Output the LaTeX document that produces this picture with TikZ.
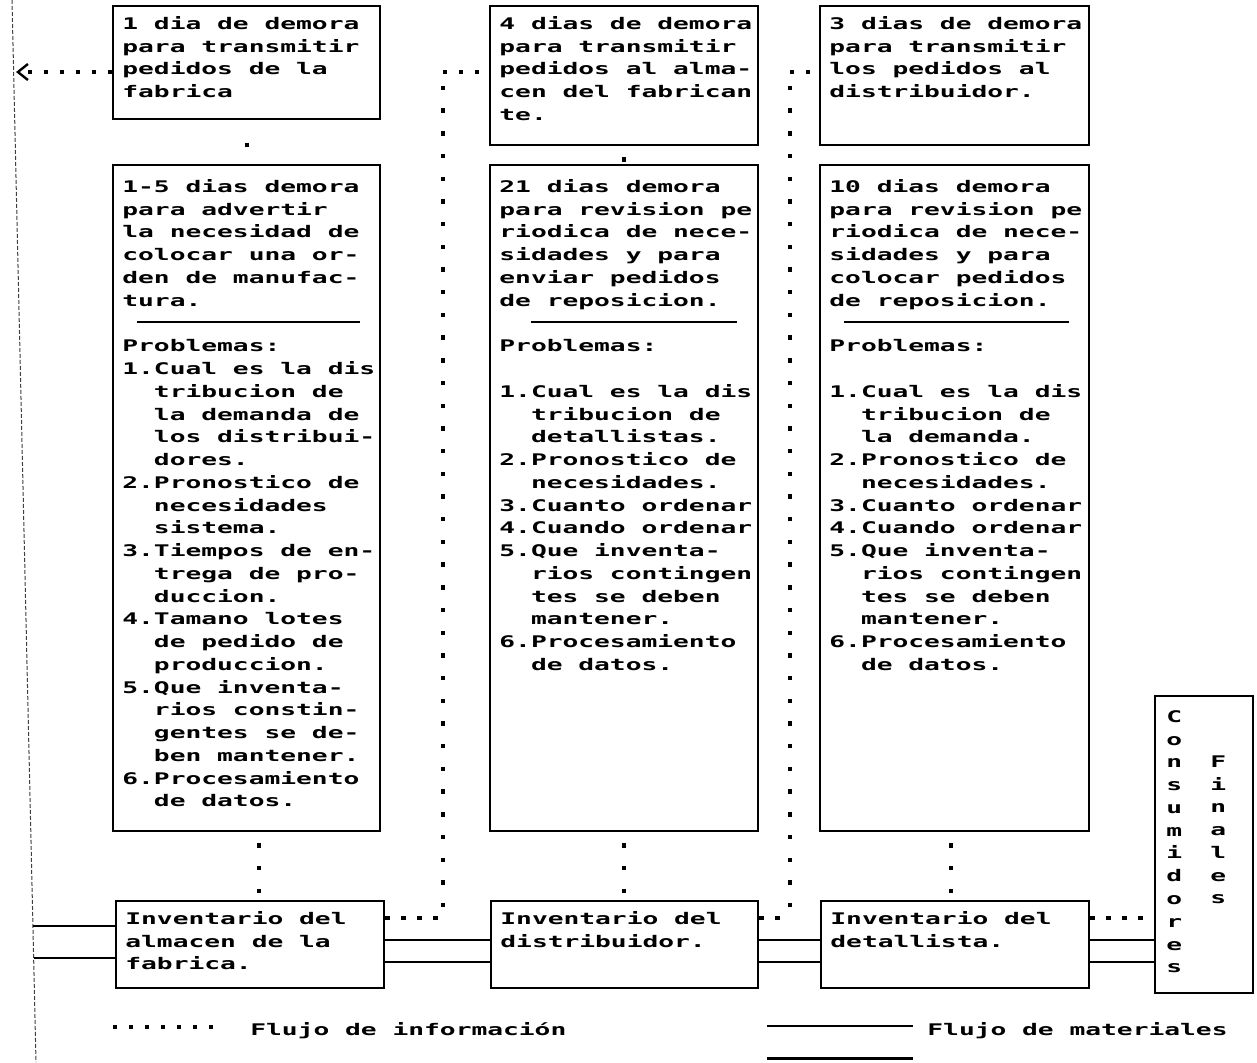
\documentclass[tikz,border=0pt]{standalone}
\usepackage{fontspec}
\newfontfamily\dm[FakeStretch=1.64]{DejaVu Sans Mono}
\usetikzlibrary{arrows.meta,calc}
\newcommand\fl{\rule{0pt}{7pt}}
\newcommand\ind{\phantom{1.}}
\begin{document}
\begin{tikzpicture}[x=0.5pt,y=-0.5pt,
  box/.style={draw,line width=1.2pt,inner sep=0pt,anchor=north west},
  txt/.style={anchor=north west,inner sep=0pt,align=left,font=\dm\bfseries\fontsize{8}{11.38}\selectfont},
  infoh/.style={line width=2.2pt,dash pattern=on 2.2pt off 5.8pt},
  infov/.style={line width=2.2pt,dash pattern=on 2.2pt off 9.15pt,dash phase=6pt},
  infoone/.style={line width=2.2pt,dash pattern=on 2.2pt off 30pt,dash phase=21pt},
  mat/.style={line width=1pt},
  sep/.style={line width=1pt},
  edge/.style={line width=0.5pt,black!75,dash pattern=on 2pt off 1pt},
]
\fill[white] (0,0) rectangle (1257,1062);
\useasboundingbox (0,0) rectangle (1257,1062);

% left border line
\coordinate (e1) at (12,0);
\coordinate (e2) at (36,1062);
\draw[edge] (e1) -- (e2);

% row 1
\node[box,minimum width=133.5pt,minimum height=56.5pt] (A1) at (112,5) {};
\node[box,minimum width=134pt,minimum height=69.5pt] (B1) at (489,5) {};
\node[box,minimum width=134.5pt,minimum height=69.5pt] (C1) at (819,5) {};
\node[txt] (A1t) at (122,15) {\fl 1 dia de demora\\para transmitir\\pedidos de la\\fabrica};
\node[txt] (B1t) at (499,15) {\fl 4 dias de demora\\para transmitir\\pedidos al alma-\\cen del fabrican\\te.};
\node[txt] (C1t) at (829,15) {\fl 3 dias de demora\\para transmitir\\los pedidos al\\distribuidor.};

% row 2
\node[box,minimum width=133.5pt,minimum height=333pt] (A2) at (112,164) {};
\node[box,minimum width=134pt,minimum height=333pt] (B2) at (489,164) {};
\node[box,minimum width=134.5pt,minimum height=333pt] (C2) at (819,164) {};
\node[txt] (A2t) at (122,178) {\fl 1-5 dias demora\\para advertir\\la necesidad de\\colocar una or-\\den de manufac-\\tura.\\[11.38pt]Problemas:\\1.Cual es la dis\\\ind tribucion de\\\ind la demanda de\\\ind los distribui-\\\ind dores.\\2.Pronostico de\\\ind necesidades\\\ind sistema.\\3.Tiempos de en-\\\ind trega de pro-\\\ind duccion.\\4.Tamano lotes\\\ind de pedido de\\\ind produccion.\\5.Que inventa-\\\ind rios constin-\\\ind gentes se de-\\\ind ben mantener.\\6.Procesamiento\\\ind de datos.};
\node[txt] (B2t) at (499,178) {\fl 21 dias demora\\para revision pe\\riodica de nece-\\sidades y para\\enviar pedidos\\de reposicion.\\[11.38pt]Problemas:\\[11.38pt]1.Cual es la dis\\\ind tribucion de\\\ind detallistas.\\2.Pronostico de\\\ind necesidades.\\3.Cuanto ordenar\\4.Cuando ordenar\\5.Que inventa-\\\ind rios contingen\\\ind tes se deben\\\ind mantener.\\6.Procesamiento\\\ind de datos.};
\node[txt] (C2t) at (829,178) {\fl 10 dias demora\\para revision pe\\riodica de nece-\\sidades y para\\colocar pedidos\\de reposicion.\\[11.38pt]Problemas:\\[11.38pt]1.Cual es la dis\\\ind tribucion de\\\ind la demanda.\\2.Pronostico de\\\ind necesidades.\\3.Cuanto ordenar\\4.Cuando ordenar\\5.Que inventa-\\\ind rios contingen\\\ind tes se deben\\\ind mantener.\\6.Procesamiento\\\ind de datos.};
\draw[sep] (137,322) -- (360,322);
\draw[sep] (531,322) -- (737,322);
\draw[sep] (844,322) -- (1069,322);

% row 3
\node[box,minimum width=134pt,minimum height=43.5pt] (A3) at (115,900) {};
\node[box,minimum width=133.5pt,minimum height=43.5pt] (B3) at (490,900) {};
\node[box,minimum width=134pt,minimum height=43.5pt] (C3) at (820,900) {};
\node[txt] (A3t) at (125,910) {\fl Inventario del\\almacen de la\\fabrica.};
\node[txt] (B3t) at (500,910) {\fl Inventario del\\distribuidor.};
\node[txt] (C3t) at (830,910) {\fl Inventario del\\detallista.};

% consumers
\node[box,minimum width=49pt,minimum height=148.5pt] (cons) at (1154,695) {};
\node[txt] (consA) at (1166,708) {\fl C\\o\\n\\s\\u\\m\\i\\d\\o\\r\\e\\s};
\node[txt] (consB) at (1210,753) {\fl F\\i\\n\\a\\l\\e\\s};

% information flow
\coordinate (ar) at (16,72);
\coordinate (i1) at (0,918);
\coordinate (i2) at (0,72);
\coordinate (vAB) at (443,0);
\coordinate (vBC) at (790,0);
\draw[infoh,-{Straight Barb[length=5pt,width=8pt,line width=1.2pt]}] (A1.west |- ar) -- (ar);
\draw[infoh] (A3.east |- i1) -- (vAB |- i1);
\draw[infov] (vAB |- i1) -- (vAB |- i2);
\draw[infoh] (vAB |- i2) -- (B1.west |- i2);
\draw[infoh] (B3.east |- i1) -- (vBC |- i1);
\draw[infov] (vBC |- i1) -- (vBC |- i2);
\draw[infoh] (vBC |- i2) -- (C1.west |- i2);
\draw[infoh] (C3.east |- i1) -- (cons.west |- i1);
\draw[infoone] (A1.south) -- (A2.north);
\draw[infov] (B1.south) -- (B2.north);
\draw[infov] ([xshift=6pt]A2.south) -- ([xshift=6pt]A2.south |- A3.north);
\draw[infov] (B2.south) -- (B2.south |- B3.north);
\draw[infov] ([xshift=-2pt]C2.south) -- ([xshift=-2pt]C2.south |- C3.north);

% material flow
\coordinate (L1) at (33,926);
\coordinate (L2) at (34,958);
\coordinate (m1) at (0,940);
\coordinate (m2) at (0,962);
\draw[mat] (L1) -- (A3.west |- L1);
\draw[mat] (L2) -- (A3.west |- L2);
\draw[mat] (A3.east |- m1) -- (B3.west |- m1);
\draw[mat] (A3.east |- m2) -- (B3.west |- m2);
\draw[mat] (B3.east |- m1) -- (C3.west |- m1);
\draw[mat] (B3.east |- m2) -- (C3.west |- m2);
\draw[mat] (C3.east |- m1) -- (cons.west |- m1);
\draw[mat] (C3.east |- m2) -- (cons.west |- m2);

% legend
\coordinate (g1) at (113,1027);
\coordinate (g2) at (213,1027);
\draw[infoh] (g1) -- (g2);
\node[txt,anchor=base west] (lgi) at (250,1035) {Flujo de información};
\coordinate (h1) at (767,1026);
\coordinate (h2) at (913,1026);
\coordinate (h3) at (767,1058);
\coordinate (h4) at (913,1058);
\draw[mat] (h1) -- (h2);
\draw[mat,line width=1.5pt] (h3) -- (h4);
\node[txt,anchor=base west] (lgm) at (927,1035) {Flujo de materiales};
\end{tikzpicture}
\end{document}
